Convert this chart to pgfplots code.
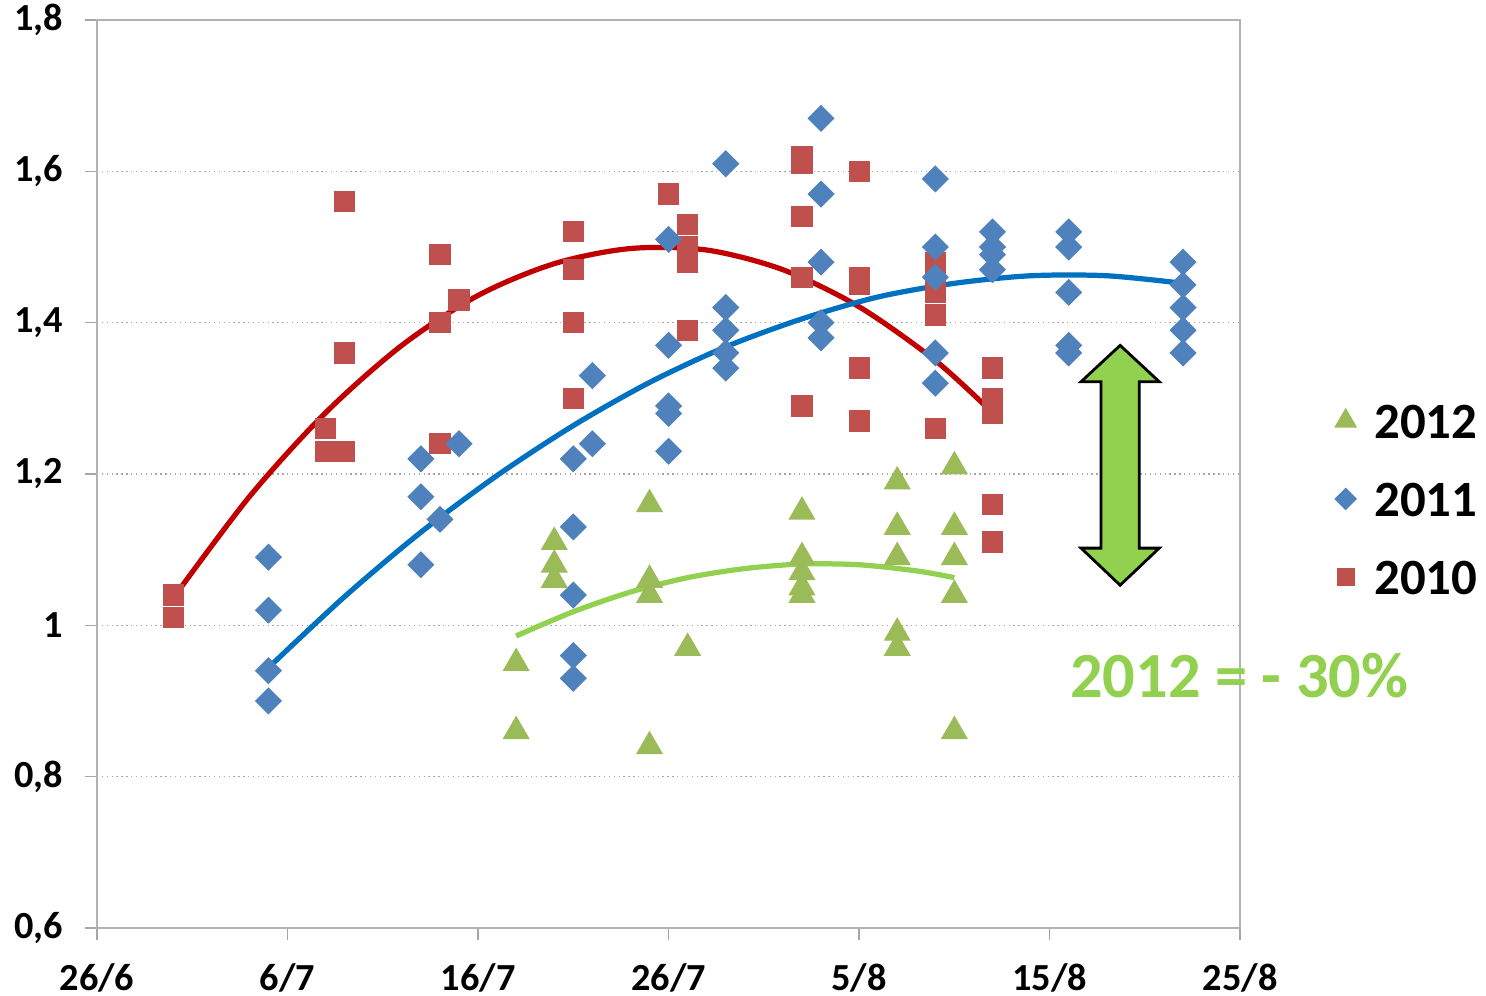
\documentclass[border=0pt]{standalone}
\usepackage{fontspec}
\setmainfont{Carlito}
\usepackage{pgfplots}
\pgfplotsset{compat=1.18}

\definecolor{c10}{HTML}{C0504D}
\definecolor{c11}{HTML}{4F81BD}
\definecolor{c12}{HTML}{9BBB59}
\definecolor{t10}{HTML}{C00000}
\definecolor{t11}{HTML}{0070C0}
\definecolor{t12}{HTML}{92D050}

% x = days after 26/6
\begin{document}
\begin{tikzpicture}
\useasboundingbox (-0.979cm,-0.686cm) rectangle (14.021cm,9.367cm);
\begin{axis}[
    scale only axis,
    width=11.54cm, height=9.165cm,
    xmin=0, xmax=60, ymin=0.6, ymax=1.8,
    xtick={0,10,...,60},
    xticklabels={26/6,6/7,16/7,26/7,5/8,15/8,25/8},
    ytick={0.6,0.8,...,1.81},
    yticklabel style={/pgf/number format/use comma, /pgf/number format/fixed,
        /pgf/number format/precision=1, xshift=-0.1cm},
    /pgf/number format/assume math mode=true,
    tick label style={font=\fontsize{11}{13}\selectfont\bfseries},
    tick pos=left, tick align=outside,
    major tick length=0.12cm,
    tick style={gray!70, thin},
    axis line style={gray!60},
    ymajorgrids, major grid style={densely dotted, gray!70},
    xticklabel style={yshift=-0.12cm},
    clip=false,
    reverse legend,
    legend style={draw=none, fill=none, at={(1.0735,0.4725)}, anchor=west,
        font=\fontsize{14.6}{16}\selectfont\bfseries,
        nodes={inner sep=1pt, text height=10pt, text depth=0pt},
        row sep=10.4pt,
        /tikz/every odd column/.append style={column sep=0.15cm}},
    legend cell align=left,
]
% 2010
\addplot[only marks, mark=square*, mark size=2.85pt, color=c10,
    legend image post style={mark size=2.4pt}] coordinates {
 (4,1.04) (4,1.01) (12,1.26) (12,1.23) (13,1.23) (13,1.36) (13,1.56)
 (18,1.49) (18,1.40) (18,1.24) (19,1.43)
 (25,1.52) (25,1.47) (25,1.40) (25,1.30)
 (30,1.57) (31,1.53) (31,1.50) (31,1.48) (31,1.39)
 (37,1.62) (37,1.61) (37,1.54) (37,1.46) (37,1.29)
 (40,1.60) (40,1.46) (40,1.45) (40,1.34) (40,1.27)
 (44,1.48) (44,1.46) (44,1.44) (44,1.41) (44,1.26)
 (47,1.34) (47,1.30) (47,1.28) (47,1.16) (47,1.11)
};
\addlegendentry{2010}
% 2011
\addplot[only marks, mark=square*, mark size=2.55pt, mark options={rotate=45}, color=c11,
    legend image post style={mark size=2.1pt}] coordinates {
 (9,1.09) (9,1.02) (9,0.94) (9,0.90)
 (17,1.22) (17,1.17) (17,1.08) (18,1.14) (19,1.24)
 (25,1.22) (25,1.13) (25,1.04) (25,0.96) (25,0.93) (26,1.33) (26,1.24)
 (30,1.51) (30,1.37) (30,1.29) (30,1.28) (30,1.23)
 (33,1.61) (33,1.42) (33,1.39) (33,1.36) (33,1.34)
 (38,1.67) (38,1.57) (38,1.48) (38,1.40) (38,1.38)
 (44,1.59) (44,1.50) (44,1.46) (44,1.36) (44,1.32)
 (47,1.52) (47,1.50) (47,1.49) (47,1.47)
 (51,1.52) (51,1.50) (51,1.44) (51,1.37) (51,1.36)
 (57,1.48) (57,1.45) (57,1.42) (57,1.39) (57,1.36)
};
\addlegendentry{2011}
% 2012
\addplot[only marks, mark=triangle*, mark size=4.1pt, color=c12,
    legend image post style={mark size=3.4pt}] coordinates {
 (22,0.95) (22,0.86)
 (24,1.11) (24,1.08) (24,1.06)
 (29,1.16) (29,1.06) (29,1.04) (29,0.84) (31,0.97)
 (37,1.15) (37,1.09) (37,1.07) (37,1.05) (37,1.04)
 (42,1.19) (42,1.13) (42,1.09) (42,0.99) (42,0.97)
 (45,1.21) (45,1.13) (45,1.09) (45,1.04) (45,0.86)
};
\addlegendentry{2012}
% trend lines
\addplot[forget plot, smooth, t10, line width=1.5pt] coordinates {
 (4,1.036) (8,1.170) (12,1.281) (16,1.370) (20,1.436) (24,1.478)
 (28,1.498) (32,1.496) (36,1.470) (40,1.421) (44,1.350) (47,1.281)
};
\addplot[forget plot, smooth, t11, line width=1.5pt] coordinates {
 (9,0.944) (13,1.038) (17,1.123) (21,1.198) (25,1.264) (29,1.321)
 (33,1.368) (37,1.405) (41,1.434) (45,1.452) (49,1.462) (53,1.462) (57,1.452)
};
\addplot[forget plot, smooth, t12, line width=1.5pt] coordinates {
 (22,0.986) (25,1.018) (28,1.044) (31,1.063) (34,1.075) (37,1.081)
 (40,1.080) (43,1.072) (45,1.063)
};
% double arrow annotation
\draw[fill=t12, draw=black, line width=0.8pt]
 (axis cs:53.7,1.370) -- (axis cs:55.75,1.322) -- (axis cs:54.7,1.322)
 -- (axis cs:54.7,1.102) -- (axis cs:55.75,1.102) -- (axis cs:53.7,1.053)
 -- (axis cs:51.65,1.102) -- (axis cs:52.7,1.102) -- (axis cs:52.7,1.322)
 -- (axis cs:51.65,1.322) -- cycle;
\node[text=t12, font=\fontsize{18.5}{20}\selectfont\bfseries] at (axis cs:59.95,0.934) {2012 = - 30\%};
\end{axis}
\end{tikzpicture}
\end{document}
